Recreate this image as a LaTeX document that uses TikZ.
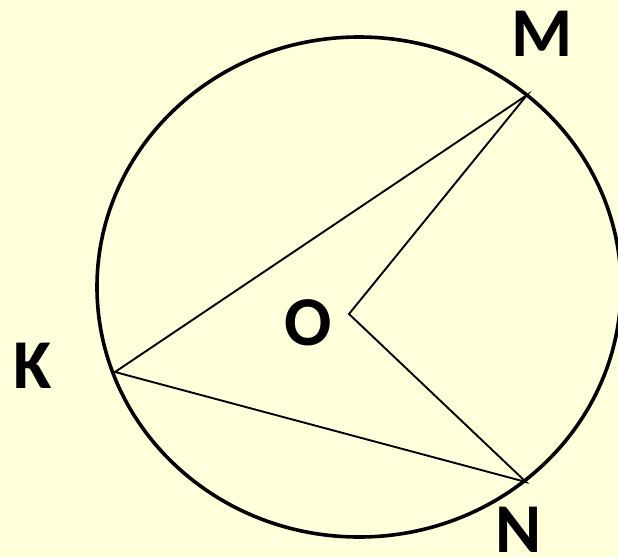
\documentclass[tikz,border=0pt]{standalone}
\usepackage{fontspec}
\setmainfont{Carlito}
\usetikzlibrary{positioning}
\definecolor{paper}{HTML}{FFFFDB}
\tikzset{
  % --- shapes
  rim/.style   = {line width=3.6pt, draw=black},
  chord/.style = {line width=1.9pt, draw=black, line join=miter},
  % --- labels
  ptlbl/.style = {font=\fontsize{70}{70}\selectfont\bfseries, inner sep=0pt},
}
\begin{document}
\begin{tikzpicture}[x=1pt,y=-1pt]
  \fill[paper] (0,0) rectangle (618,557);
  \useasboundingbox (0,0) rectangle (618,557);
  \draw[rim] (359,287) ellipse [x radius=262, y radius=250];
  \coordinate (K) at (115,372);
  \coordinate (M) at (527,95);
  \coordinate (N) at (526,482);
  \coordinate (O) at (349,314);
  \draw[chord] (K) -- (M) -- (O) -- (N) -- cycle;
  \node[ptlbl] (lM) at (542,34) {M};
  \node[ptlbl] (lK) at (33,366) {K};
  \node[ptlbl] (lO) at (308,323) {O};
  \node[ptlbl] (lN) at (519,530) {N};
\end{tikzpicture}
\end{document}
